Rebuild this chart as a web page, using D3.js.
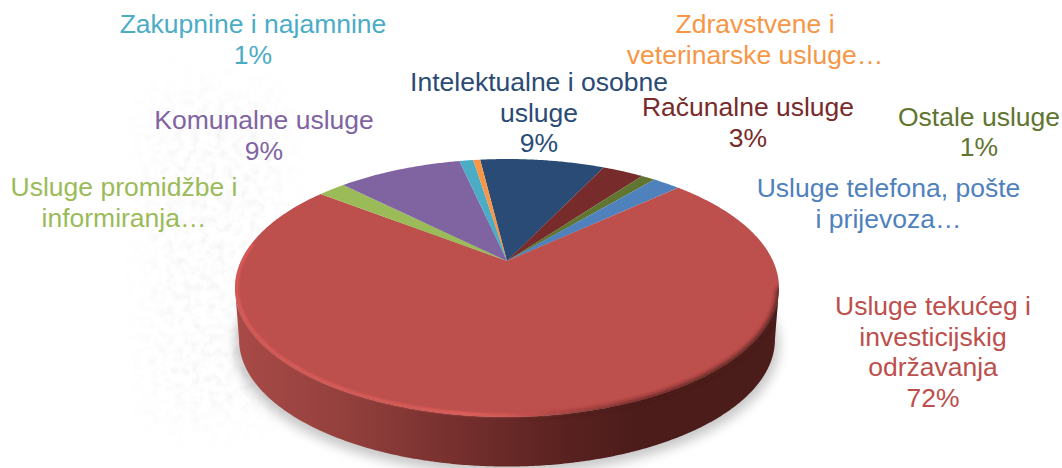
<!DOCTYPE html>
<html><head><meta charset="utf-8">
<script src="https://cdn.jsdelivr.net/npm/d3@7/dist/d3.min.js"></script>
<style>html,body{margin:0;padding:0;background:#fff}svg{display:block}text{font-family:"Liberation Sans",Arial,sans-serif}</style>
</head><body><svg id="c" width="1062" height="468"></svg>
<script>
// Data, clockwise from the navy slice
const categories = ["Intelektualne i osobne usluge","Računalne usluge","Ostale usluge","Usluge telefona, pošte i prijevoza","Usluge tekućeg i investicijskog održavanja","Usluge promidžbe i informiranja","Komunalne usluge","Zakupnine i najamnine","Zdravstvene i veterinarske usluge"];
const values = [9, 3, 1, 2, 72, 2, 9, 1, 0.5];
const colors = ["#2a4b75","#772b2a","#5f7530","#4f81bd","#bd4f4c","#9bbb59","#8064a2","#4bacc6","#f79646"];
const labelLines = [
 ["Intelektualne i osobne","usluge","9%"],
 ["Računalne usluge","3%"],
 ["Ostale usluge","1%"],
 ["Usluge telefona, pošte","i prijevoza…"],
 ["Usluge tekućeg i","investicijskig","održavanja","72%"],
 ["Usluge promidžbe i","informiranja…"],
 ["Komunalne usluge","9%"],
 ["Zakupnine i najamnine","1%"],
 ["Zdravstvene i","veterinarske usluge…"]
];
const labelColors = ["#2a4b75","#772b2a","#5f7530","#4f81bd","#bd4f4c","#9bbb59","#8064a2","#4bacc6","#f79646"];

// Layout
const labelPos = [[539,91],[748,116],[979,125.5],[888.5,197],[933,315],[124,196],[264,129],[253,33],[755,33]];
const lineH = 30.5, fontSize = 26.5;
const apex = [507,261], K = 0.209, A = 266, B = 123.3, depth = 52;
const deg = Math.PI/180;
const project = (t, dy=0, s=1) => { // t: angle clockwise from the far point of the disc
  const u = Math.sin(t), v = Math.cos(t), w = 1 + K*v;
  return [apex[0] + s*A*u/w, apex[1] - s*B*v/w + dy];
};
const svg = d3.select("#c");
const defs = svg.append("defs");
const line = d3.line();
const sweep = (a,b,dy,s) => { const n = Math.max(2,Math.ceil(Math.abs(b-a)/(0.5*deg))); return d3.range(n+1).map(i=>project(a+(b-a)*i/n,dy,s)); };

// background speckle
const tex = defs.append("filter").attr("id","tex").attr("x",-0.2).attr("y",-0.2).attr("width",1.4).attr("height",1.4);
tex.append("feTurbulence").attr("type","fractalNoise").attr("baseFrequency",0.12).attr("numOctaves",3).attr("seed",4).attr("result","n");
tex.append("feColorMatrix").attr("in","n").attr("type","matrix").attr("values","0 0 0 0 0.5  0 0 0 0 0.5  0 0 0 0 0.5  0 0 0 1.2 -0.5").attr("result","m");
tex.append("feGaussianBlur").attr("in","SourceGraphic").attr("stdDeviation",22).attr("result","b");
tex.append("feComposite").attr("in","m").attr("in2","b").attr("operator","in");
svg.append("rect").attr("x",150).attr("y",90).attr("width",130).attr("height",330).attr("fill","#000").attr("filter","url(#tex)").attr("opacity",.3);

defs.append("filter").attr("id","blur12").append("feGaussianBlur").attr("stdDeviation",6);
defs.append("filter").attr("id","blur1").append("feGaussianBlur").attr("stdDeviation",0.9);
defs.append("filter").attr("id","blur2").append("feGaussianBlur").attr("stdDeviation",2);

const t0 = Math.acos(-K), t1 = 2*Math.PI - t0;
// soft shadow
svg.append("path").attr("d",line(sweep(0,2*Math.PI,depth+5,1.0))).attr("fill","#000").attr("opacity",.22).attr("filter","url(#blur12)");

// wall
const wallG = defs.append("linearGradient").attr("id","wall").attr("gradientUnits","userSpaceOnUse").attr("x1",236).attr("x2",778).attr("y1",0).attr("y2",0);
[[0,"#a94a47"],[.2,"#93403d"],[.4,"#77302e"],[.6,"#5a2220"],[.75,"#4b1c1a"],[1,"#4a1c1a"]].forEach(d=>wallG.append("stop").attr("offset",d[0]).attr("stop-color",d[1]));
const wallPts = sweep(t0,t1,0,1).concat(sweep(t1,t0,depth,0.985));
svg.append("path").attr("d",line(wallPts)+"Z").attr("fill","url(#wall)");

// slices
const pie = d3.pie().sort(null).value(d=>d).startAngle(-7*deg).endAngle(353*deg);
const arcs = pie(values);
svg.append("g").selectAll("path").data(arcs).join("path")
  .attr("d",d=>line([apex].concat(sweep(d.startAngle,d.endAngle,0,1)))+"Z")
  .attr("fill",(d,i)=>colors[i]);

// bevel along the front rim: a light line on the left, a soft dark blend on the right
const gradient = (id, stops) => {
  const gr = defs.append("linearGradient").attr("id",id).attr("gradientUnits","userSpaceOnUse").attr("x1",236).attr("x2",778).attr("y1",0).attr("y2",0);
  stops.forEach(d=>gr.append("stop").attr("offset",d[0]).attr("stop-color",d[1]).attr("stop-opacity",d[2]));
};
gradient("rimLight",[[0,"#dc5c59",1],[.3,"#e0605c",.8],[.42,"#e6625f",1],[.55,"#d85a56",.6],[.68,"#c85250",0]]);
gradient("rimDark",[[.5,"#4a1c1a",0],[.72,"#4a1c1a",.75],[1,"#4a1c1a",1]]);
const clip = defs.append("clipPath").attr("id","solid");
clip.append("path").attr("d",line(sweep(0,2*Math.PI,0,1))+"Z");
clip.append("path").attr("d",line(wallPts)+"Z");
const rims = svg.append("g").attr("clip-path","url(#solid)");
rims.append("path")
  .attr("d",line(sweep(t0-0.12,t1+0.35,-0.5,0.993))).attr("fill","none").attr("stroke","url(#rimLight)")
  .attr("stroke-width",3).attr("filter","url(#blur1)");
rims.append("path")
  .attr("d",line(sweep(t0,t1,0,1))).attr("fill","none").attr("stroke","url(#rimDark)")
  .attr("stroke-width",4.5).attr("filter","url(#blur2)");

// labels
const g = svg.append("g").attr("text-anchor","middle").attr("font-size",fontSize);
labelLines.forEach((ls,i)=>{
  const t = g.append("text").attr("fill",labelColors[i]);
  ls.forEach((s,j)=>t.append("tspan").attr("x",labelPos[i][0]).attr("y",labelPos[i][1]+j*lineH).text(s));
});
</script></body></html>
